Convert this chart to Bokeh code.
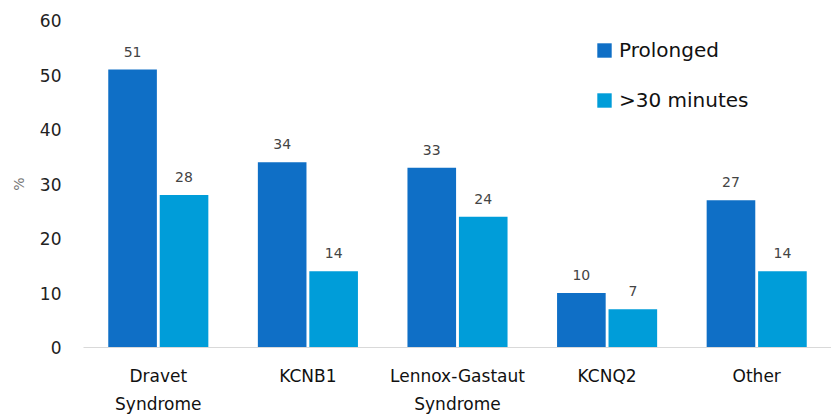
import json
from bokeh.plotting import figure
from bokeh.models import (ColumnDataSource, CategoricalAxis, Range1d, FixedTicker, Legend,
                          LegendItem, CustomJSTickFormatter)
from bokeh.transform import dodge
from bokeh.embed import file_html
from bokeh.resources import INLINE
from bokeh.core.properties import value

categories = ["Dravet Syndrome", "KCNB1", "Lennox-Gastaut Syndrome", "KCNQ2", "Other"]
line1 = ["Dravet", "KCNB1", "Lennox-Gastaut", "KCNQ2", "Other"]
line2 = ["Syndrome", "", "Syndrome", "", ""]
prolonged = [51, 34, 33, 10, 27]
over30 = [28, 14, 24, 7, 14]
series_names = ["Prolonged", ">30 minutes"]
colors = ["#0F6FC6", "#009DD9"]
y_ticks = [0, 10, 20, 30, 40, 50, 60]

FONT = "DejaVu Sans"

src = ColumnDataSource(dict(
    cat=categories, p=prolonged, o=over30,
    pl=[str(v) for v in prolonged], ol=[str(v) for v in over30],
))

p = figure(x_range=categories, y_range=Range1d(0, 60), width=831, height=416,
           output_backend="svg", toolbar_location=None, x_axis_location=None,
           min_border_left=83, min_border_right=0, min_border_top=20, min_border_bottom=0)
p.outline_line_color = None
p.xgrid.grid_line_color = None
p.ygrid.grid_line_color = None
p.x_range.range_padding = 0

w = 0.325
off = 0.172
r1 = p.vbar(x=dodge("cat", -off, range=p.x_range), top="p", width=w, source=src,
            fill_color=colors[0], line_color=None)
r2 = p.vbar(x=dodge("cat", off, range=p.x_range), top="o", width=w, source=src,
            fill_color=colors[1], line_color=None)

for col, lab, dx in [("p", "pl", -off), ("o", "ol", off)]:
    p.text(x=dodge("cat", dx, range=p.x_range), y=col, text=lab, source=src,
           text_align="center", text_baseline="bottom", y_offset=-13,
           text_font=value(FONT), text_font_size="14px", text_color="#444444")

# y axis
yax = p.yaxis[0]
yax.ticker = FixedTicker(ticks=y_ticks)
yax.axis_line_color = None
yax.major_tick_line_color = None
yax.minor_tick_line_color = None
yax.major_label_text_font = FONT
yax.major_label_text_font_size = "17px"
yax.major_label_text_color = "#222222"
yax.major_label_standoff = 16
yax.axis_label = "%"
yax.axis_label_text_font = FONT
yax.axis_label_text_font_size = "14px"
yax.axis_label_text_font_style = "normal"
yax.axis_label_text_color = "#777777"
yax.axis_label_standoff = 10


def make_formatter(lines):
    mapping = json.dumps(dict(zip(categories, lines)))
    return CustomJSTickFormatter(code="const m = %s; return (tick in m) ? m[tick] : tick;" % mapping)


# x axes (two lines of labels)
ax1 = CategoricalAxis(formatter=make_formatter(line1))
ax1.axis_line_color = "#d9d9d9"
ax1.major_tick_line_color = None
ax1.minor_tick_line_color = None
ax1.major_label_text_font = FONT
ax1.major_label_text_font_size = "17px"
ax1.major_label_text_color = "#111111"
ax1.major_label_standoff = 12
p.add_layout(ax1, "below")

ax2 = CategoricalAxis(formatter=make_formatter(line2))
ax2.axis_line_color = None
ax2.major_tick_line_color = None
ax2.minor_tick_line_color = None
ax2.major_label_text_font = FONT
ax2.major_label_text_font_size = "17px"
ax2.major_label_text_color = "#111111"
ax2.major_label_standoff = -1
p.add_layout(ax2, "below")

legend = Legend(items=[LegendItem(label=series_names[0], renderers=[r1]),
                       LegendItem(label=series_names[1], renderers=[r2])],
                location=(512, 235))
legend.border_line_color = None
legend.background_fill_alpha = 0
legend.padding = 0
legend.margin = 0
legend.spacing = 26
legend.glyph_width = 18
legend.glyph_height = 18
legend.label_height = 20
legend.label_standoff = 6
legend.label_text_font = FONT
legend.label_text_font_size = "20px"
legend.label_text_color = "#111111"
p.add_layout(legend)

open("out.html", "w").write(file_html(p, INLINE))
